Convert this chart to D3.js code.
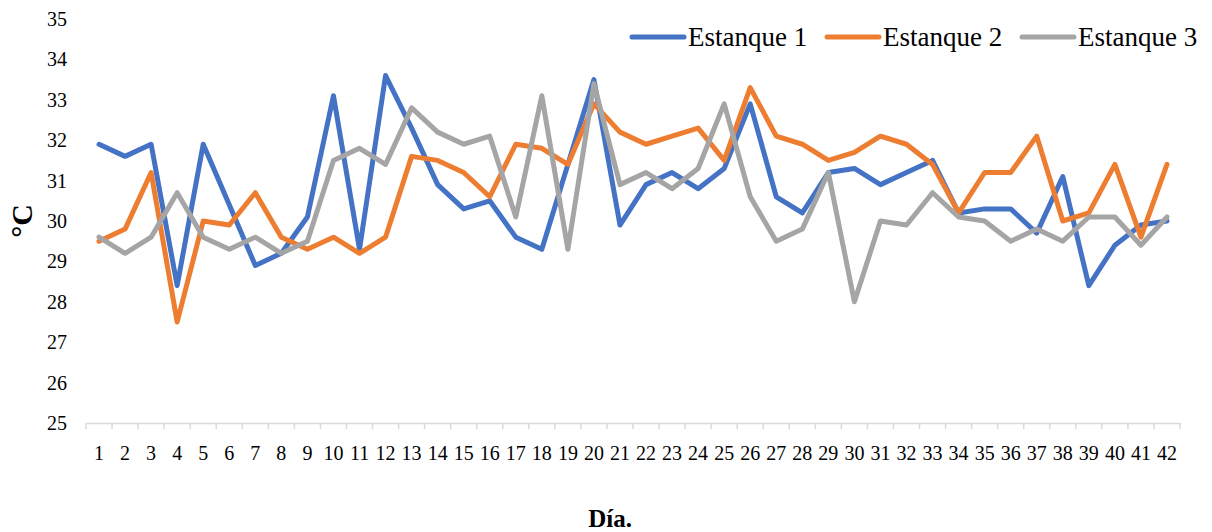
<!DOCTYPE html>
<html><head><meta charset="utf-8">
<script src="https://cdn.jsdelivr.net/npm/d3@7/dist/d3.min.js"></script>
<style>body{margin:0;background:#fff}svg{display:block}</style>
</head><body><svg id="c" width="1212" height="532" font-family="Liberation Serif"></svg>
<script>
const days = d3.range(1, 43).map(String);
const estanque1 = [31.9,31.6,31.9,28.4,31.9,30.4,28.9,29.2,30.1,33.1,29.3,33.6,32.3,30.9,30.3,30.5,29.6,29.3,31.4,33.5,29.9,30.9,31.2,30.8,31.3,32.9,30.6,30.2,31.2,31.3,30.9,31.2,31.5,30.2,30.3,30.3,29.7,31.1,28.4,29.4,29.9,30.0];
const estanque2 = [29.5,29.8,31.2,27.5,30.0,29.9,30.7,29.6,29.3,29.6,29.2,29.6,31.6,31.5,31.2,30.6,31.9,31.8,31.4,32.9,32.2,31.9,32.1,32.3,31.5,33.3,32.1,31.9,31.5,31.7,32.1,31.9,31.4,30.2,31.2,31.2,32.1,30.0,30.2,31.4,29.6,31.4];
const estanque3 = [29.6,29.2,29.6,30.7,29.6,29.3,29.6,29.2,29.5,31.5,31.8,31.4,32.8,32.2,31.9,32.1,30.1,33.1,29.3,33.4,30.9,31.2,30.8,31.3,32.9,30.6,29.5,29.8,31.2,28.0,30.0,29.9,30.7,30.1,30.0,29.5,29.8,29.5,30.1,30.1,29.4,30.1];
const seriesNames = ["Estanque 1","Estanque 2","Estanque 3"];
const colors = ["#4472C4","#ED7D31","#A5A5A5"];
const yTicks = [25,26,27,28,29,30,31,32,33,34,35];
const xTitle = "Día.";
const yTitle = "°C";
const FONT = "Liberation Serif";

const svg = d3.select("#c");
const x = d3.scaleBand().domain(days).range([86, 1180]);
const y = d3.scaleLinear().domain([25, 35]).range([423, 19]);

// x axis
const xa = svg.append("g").attr("transform","translate(0,423)")
  .call(d3.axisBottom(x).tickSize(0).tickPadding(23));
xa.attr("font-family", FONT);
xa.select(".domain").attr("stroke","#D9D9D9").attr("stroke-width",1.5);
xa.selectAll("text").attr("font-size",20).attr("font-family",FONT).attr("fill","#000");
const bounds = days.map(d => x(d)).concat([x.range()[1]]);
svg.append("g").selectAll("line").data(bounds).join("line")
  .attr("x1", d=>d).attr("x2", d=>d).attr("y1",423).attr("y2",429)
  .attr("stroke","#D9D9D9").attr("stroke-width",1.5);

// y axis
const ya = svg.append("g").attr("transform","translate(67,0)")
  .call(d3.axisLeft(y).tickValues(yTicks).tickSize(0).tickPadding(0));
ya.attr("font-family", FONT);
ya.select(".domain").remove();
ya.selectAll("text").attr("font-size",20).attr("font-family",FONT).attr("fill","#000");

// lines
const line = d3.line().x((d,i)=>x(days[i]) + x.bandwidth()/2).y(d=>y(d));
[estanque1, estanque2, estanque3].forEach((s,i)=>{
  svg.append("path").datum(s).attr("d", line).attr("fill","none")
    .attr("stroke", colors[i]).attr("stroke-width",5)
    .attr("stroke-linejoin","round").attr("stroke-linecap","round");
});

// legend
const legX = [630, 825, 1020];
seriesNames.forEach((n,i)=>{
  const g = svg.append("g").attr("transform",`translate(${legX[i]},37)`);
  g.append("line").attr("x1",2).attr("x2",54).attr("y1",0).attr("y2",0)
    .attr("stroke",colors[i]).attr("stroke-width",5).attr("stroke-linecap","round");
  g.append("text").attr("x",58).attr("y",9).attr("font-size",27).attr("font-family",FONT).attr("fill","#000").text(n);
});

// titles
svg.append("text").attr("x",610).attr("y",527).attr("text-anchor","middle")
  .attr("font-size",25).attr("font-weight","bold").attr("font-family",FONT).attr("fill","#000").text(xTitle);
svg.append("text").attr("transform","translate(32,221) rotate(-90)").attr("text-anchor","middle")
  .attr("font-size",30).attr("font-weight","bold").attr("font-family",FONT).attr("fill","#000").text(yTitle);
</script></body></html>
